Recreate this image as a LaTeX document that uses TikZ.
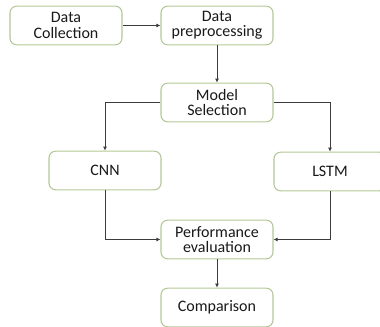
\documentclass[tikz,border=0pt]{standalone}
\usepackage{fontspec}
\setmainfont{Carlito}
\usetikzlibrary{arrows.meta}
\definecolor{boxgreen}{HTML}{B3C897}
\definecolor{linegray}{HTML}{3C3C3C}
\tikzset{
	stage/.style={draw=boxgreen, line width=0.8pt, rounded corners=5pt, fill=white,
		minimum width=84pt, minimum height=29pt, align=center, inner sep=1pt,
		font=\fontsize{12}{11.5}\selectfont, text=black!90},
	flow/.style={draw=linegray, line width=0.6pt, -{Latex[length=3pt,width=3pt]}}
}
\begin{document}
\begin{tikzpicture}[x=0.75pt, y=-0.75pt]
	\useasboundingbox (0,0) rectangle (380,327);
	\clip (0,0) rectangle (380,327);
	\node [stage] (coll) at (66,25.5) {Data\\Collection};
	\node [stage] (prep) at (217,25.5) {Data\\preprocessing};
	\node [stage] (model) at (217,102.5) {Model\\Selection};
	\node [stage] (cnn) at (105,170.5) {CNN};
	\node [stage] (lstm) at (330,171.5) {LSTM};
	\node [stage] (perf) at (217,239.5) {Performance\\evaluation};
	\node [stage] (comp) at (217,307.5) {Comparison};
	\draw [flow] (coll) -- (prep);
	\draw [flow] (prep) -- (model);
	\draw [flow] (model.west) -| (cnn.north);
	\draw [flow] (model.east) -| (lstm.north);
	\draw [flow] (cnn.south) |- (perf.west);
	\draw [flow] (lstm.south) |- (perf.east);
	\draw [flow] (perf) -- (comp);
\end{tikzpicture}
\end{document}
